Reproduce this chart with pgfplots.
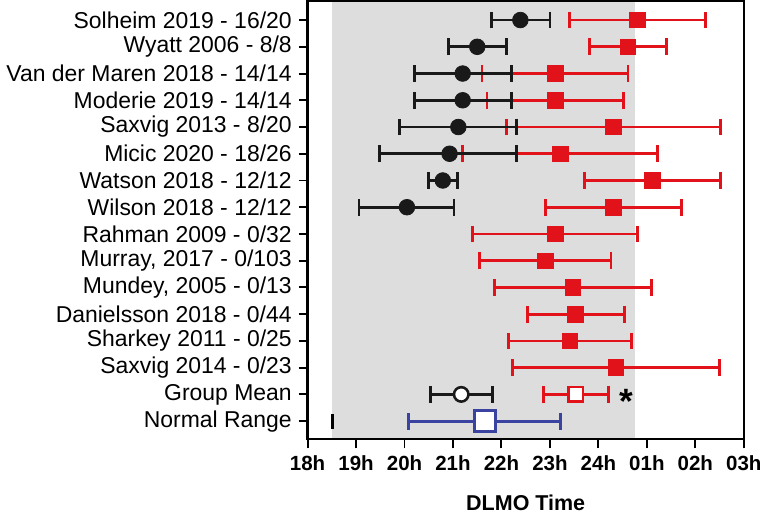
\documentclass[border=0pt]{standalone}
\usepackage{pgfplots}
\pgfplotsset{compat=1.18}
\usepackage{pgfplotstable}
\usepackage{fontspec}
\setmainfont{Liberation Sans}

\definecolor{dred}{RGB}{226,18,26}
\definecolor{dblue}{RGB}{58,68,160}
\definecolor{shade}{RGB}{221,221,221}

% y = row (15 = top), lo / x / hi = DLMO times in hours (24+ = after midnight)
\pgfplotstableread{
y  lo     x      hi
15 23.41  24.80  26.21
14 23.81  24.61  25.41
13 21.60  23.11  24.61
12 21.70  23.11  24.51
11 22.10  24.31  26.52
10 21.20  23.21  25.22
9  23.71  25.11  26.52
8  22.91  24.31  25.72
7  21.40  23.11  24.81
6  21.55  22.91  24.26
5  21.85  23.47  25.09
4  22.53  23.53  24.53
3  22.14  23.41  24.69
2  22.22  24.36  26.50
}\reddata

\pgfplotstableread{
y  lo     x      hi
15 21.80  22.39  23.00
14 20.90  21.50  22.11
13 20.20  21.20  22.20
12 20.20  21.20  22.20
11 19.89  21.11  22.31
10 19.49  20.93  22.31
9  20.50  20.79  21.10
8  19.06  20.05  21.02
}\blackdata

\pgfplotstableread{
y lo    x     hi
1 22.86 23.53 24.20
}\redmean

\pgfplotstableread{
y lo    x     hi
1 20.53 21.17 21.82
}\blackmean

\pgfplotstableread{
y lo    x     hi
0 20.08 21.66 23.22
}\normal

\pgfplotsset{
    ebar/.style={
        error bars/.cd, x dir=both, x explicit,
        error bar style={line width=1.45pt},
        error mark options={rotate=90, line width=1.45pt, mark size=4.3pt},
    },
    table/errtab/.style={x=x, y=y,
        x error plus expr=\thisrow{hi}-\thisrow{x},
        x error minus expr=\thisrow{x}-\thisrow{lo}},
}

\begin{document}
\begin{tikzpicture}
\begin{axis}[
    scale only axis,
    width=223.5pt, height=224.5pt,
    xmin=18, xmax=27,
    ymin=-0.68, ymax=15.71,
    xtick={18,...,27},
    xticklabels={18h,19h,20h,21h,22h,23h,24h,01h,02h,03h},
    ytick={0,...,15},
    yticklabels={Normal Range, Group Mean, Saxvig 2014 - 0/23, Sharkey 2011 - 0/25,
      Danielsson 2018 - 0/44, {Mundey, 2005 - 0/13}, {Murray, 2017 - 0/103},
      Rahman 2009 - 0/32, Wilson 2018 - 12/12, Watson 2018 - 12/12,
      Micic 2020 - 18/26, Saxvig 2013 - 8/20, Moderie 2019 - 14/14,
      Van der Maren 2018 - 14/14, Wyatt 2006 - 8/8, Solheim 2019 - 16/20},
    xtick pos=bottom, ytick pos=left,
    tick align=outside,
    major tick length=4.6pt,
    tick style={line width=1pt, black},
    axis line style={line width=1.1pt},
    xticklabel style={font=\bfseries\fontsize{10.5}{12}\selectfont},
    yticklabel style={font=\fontsize{11.75}{13}\selectfont},
    xlabel={DLMO Time},
    xlabel style={font=\bfseries\fontsize{11}{13}\selectfont, yshift=-6pt},
    axis on top,
]
% normal-range shading
\addplot[draw=none, fill=shade] coordinates {
    (18.51,-0.68) (24.75,-0.68) (24.75,15.71) (18.51,15.71)} -- cycle;

\addplot[only marks, color=dred, mark=square*, mark size=4pt,
    mark options={line width=0.4pt, fill=dred}, ebar]
    table[errtab] {\reddata};

\addplot[only marks, color=black!90, mark=*, mark size=4pt,
    mark options={line width=0.4pt, fill=black!90}, ebar]
    table[errtab] {\blackdata};

\addplot[only marks, color=dred, mark=square*, mark size=3.7pt,
    mark options={line width=1.3pt, fill=white}, ebar]
    table[errtab] {\redmean};

\addplot[only marks, color=black!90, mark=*, mark size=3.7pt,
    mark options={line width=1.3pt, fill=white}, ebar]
    table[errtab] {\blackmean};

\addplot[only marks, color=dblue, mark=square*, mark size=5.4pt,
    mark options={line width=1.3pt, fill=white}, ebar]
    table[errtab] {\normal};

\addplot[only marks, color=black, mark=|, mark size=3.8pt,
    mark options={line width=1.4pt}]
    coordinates {(18.51,0)};

\node[font=\bfseries\fontsize{18}{18}\selectfont, yshift=-3.5pt]
    at (axis cs:24.58,1) {*};
\end{axis}
\end{tikzpicture}
\end{document}
